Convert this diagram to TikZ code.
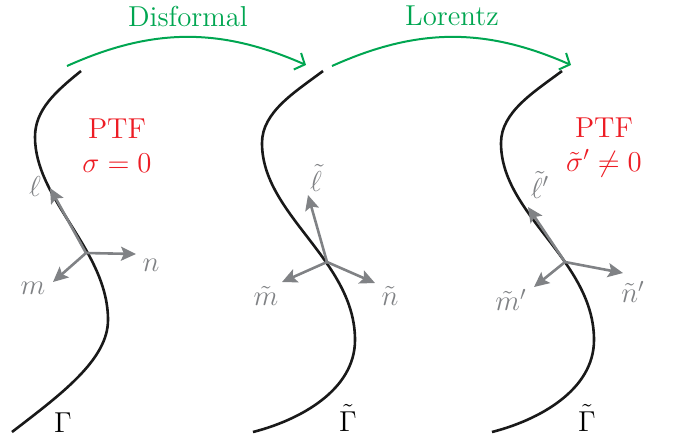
\documentclass[tikz,border=0pt]{standalone}
\usetikzlibrary{arrows.meta}

\definecolor{ptfred}{RGB}{237,28,36}
\definecolor{mapgreen}{RGB}{0,166,81}
\definecolor{framegray}{RGB}{128,130,133}

\begin{document}
\begin{tikzpicture}[x=0.5pt, y=-0.5pt, font=\fontsize{14.4}{17}\selectfont,
        curve/.style={line width=1.3pt, black!90},
        leg/.style={line width=1.3pt, framegray, -{Stealth[length=7.5pt, width=7pt, inset=1.5pt]}},
        leglabel/.style={text=framegray},
        map/.style={line width=1pt, mapgreen, -{Straight Barb[length=4pt, width=9pt]}, bend left=24}]

    \useasboundingbox (0, 0) rectangle (680, 441);

    \draw[curve] (81,71) .. controls (55,92) and (35,110) .. (35,137)
        .. controls (35,200) and (108,250) .. (108,320)
        .. controls (108,360) and (60,395) .. (12,432);
    \foreach \s in {0, 239} {
        \draw[curve, shift={(\s,0)}] (323,71) .. controls (295,92) and (262,112) .. (262,143)
            .. controls (262,215) and (355,260) .. (355,340)
            .. controls (355,390) and (300,420) .. (253,432);
    }

    \node (gamma) at (63,423) {$\Gamma$};
    \node (gammat) at (348,418) {$\tilde\Gamma$};
    \node (gammatp) at (587,418) {$\tilde\Gamma$};

    \coordinate (o1) at (86,253);
    \coordinate (l1) at (50,188);
    \coordinate (n1) at (136,254);
    \coordinate (m1) at (53,282);
    \draw[leg] (o1) -- (l1);
    \draw[leg] (o1) -- (n1);
    \draw[leg] (o1) -- (m1);
    \node[leglabel] (l1lab) at (35,186) {$\ell$};
    \node[leglabel] (n1lab) at (151,265) {$n$};
    \node[leglabel] (m1lab) at (33,288) {$m$};

    \coordinate (o2) at (327,262);
    \coordinate (l2) at (308,195);
    \coordinate (n2) at (375,283);
    \coordinate (m2) at (282,282);
    \draw[leg] (o2) -- (l2);
    \draw[leg] (o2) -- (n2);
    \draw[leg] (o2) -- (m2);
    \node[leglabel] (l2lab) at (316,178) {$\tilde\ell$};
    \node[leglabel] (n2lab) at (390,296) {$\tilde n$};
    \node[leglabel] (m2lab) at (266,296) {$\tilde m$};

    \coordinate (o3) at (565,262);
    \coordinate (l3) at (528,207);
    \coordinate (n3) at (623,273);
    \coordinate (m3) at (534,287);
    \draw[leg] (o3) -- (l3);
    \draw[leg] (o3) -- (n3);
    \draw[leg] (o3) -- (m3);
    \node[leglabel] (l3lab) at (540,185) {$\tilde\ell'$};
    \node[leglabel] (n3lab) at (633,292) {$\tilde n'$};
    \node[leglabel] (m3lab) at (511,300) {$\tilde m'$};

    \node[text=ptfred, align=center] (ptf1) at (117,146) {PTF\\$\sigma=0$};
    \node[text=ptfred, align=center] (ptf3) at (604,147) {PTF\\$\tilde\sigma'\neq0$};

    \coordinate (d0) at (67,66);
    \coordinate (d1) at (306,65);
    \coordinate (z0) at (332,66);
    \coordinate (z1) at (571,65);
    \draw[map] (d0) to (d1);
    \draw[map] (z0) to (z1);
    \node[text=mapgreen] (disformal) at (188,16) {Disformal};
    \node[text=mapgreen] (lorentz) at (452,16) {Lorentz};
\end{tikzpicture}
\end{document}
